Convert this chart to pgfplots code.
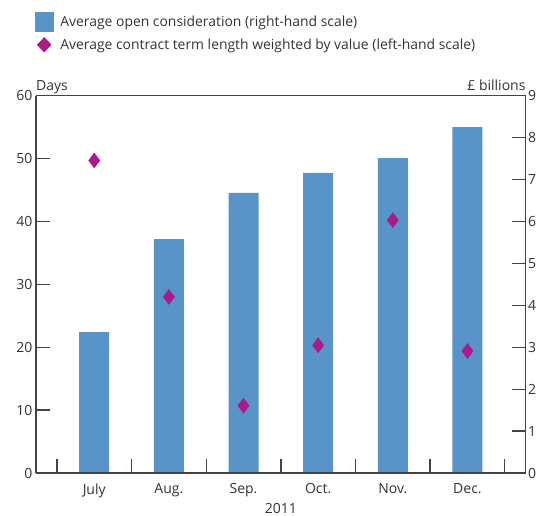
\documentclass[border=0pt]{standalone}
\usepackage{pgfplots}
\pgfplotsset{compat=1.18}
\usepackage{fontspec}
\setmainfont{Open Sans}
\definecolor{barblue}{HTML}{5894C7}
\definecolor{diamag}{HTML}{AC1A8A}
\definecolor{txt}{HTML}{333333}
\definecolor{axl}{HTML}{444444}
\begin{document}
\begin{tikzpicture}[font=\fontsize{14pt}{16.5pt}\selectfont, text=txt]
\pgfplotsset{
  common/.style={
    scale only axis, width=489.7pt, height=377.3pt,
    at={(0pt,0pt)}, anchor=south west,
    xmin=-0.78, xmax=5.78,
    /pgf/number format/assume math mode=true,
    tick align=inside, major tick length=14pt, minor tick length=14pt,
    every tick/.style={axl, line width=1.3pt},
    axis line style={axl, line width=1.3pt, -},
    tick label style={text=txt, font=\fontsize{14pt}{16.5pt}\selectfont},
    separate axis lines,
  }
}
% bars, right-hand scale
\begin{axis}[common,
  ymin=0, ymax=9, ytick={0,1,...,9},
  axis x line*=top, xtick=\empty,
  axis y line*=right,
  yticklabel style={xshift=-1pt},
]
\addplot[ybar, bar width=30pt, fill=barblue, draw=none] coordinates {
  (0,3.36) (1,5.58) (2,6.68) (3,7.16) (4,7.51) (5,8.25)
};
\end{axis}
% diamonds, left-hand scale
\begin{axis}[common,
  ymin=0, ymax=60, ytick={0,10,...,60},
  axis x line*=bottom, axis y line*=left,
  xtick={0,1,2,3,4,5},
  xticklabels={July,Aug.,Sep.,Oct.,Nov.,Dec.},
  xticklabel style={yshift=-7pt},
  major x tick style={draw=none},
  minor xtick={-0.5,0.5,1.5,2.5,3.5,4.5,5.5},
  xlabel={2011}, xlabel style={yshift=1.5pt, font=\fontsize{14pt}{16.5pt}\selectfont},
  legend style={at={(-0.002,1.221)}, anchor=north west, draw=none, fill=none,
    inner sep=0pt, outer sep=0pt, row sep=3.5pt,
    font=\fontsize{13.9pt}{16.5pt}\selectfont, text=txt,
    legend cell align=left,
    nodes={inner sep=3.5pt}},
  legend image code/.code={\fill[diamag] (9pt,-7.3pt) -- (16pt,0pt) -- (9pt,7.3pt) -- (2pt,0pt) -- cycle;},
  clip=false,
]
\addlegendimage{legend image code/.code={\fill[barblue] (0pt,-9.5pt) rectangle (18pt,9.5pt);}}
\addlegendentry{\hspace*{3.5pt}Average open consideration (right-hand scale)}
\addplot[only marks, mark=diamond*, mark size=7.5pt, color=diamag,
  mark options={draw=none, fill=diamag}] coordinates {
  (0,49.7) (1,28.0) (2,10.7) (3,20.3) (4,40.2) (5,19.4)
};
\addlegendentry{\hspace*{3.5pt}Average contract term length weighted by value (left-hand scale)}
\node[anchor=base west, inner sep=0pt, yshift=5pt] at (rel axis cs:0,1) {Days};
\node[anchor=base east, inner sep=0pt, yshift=5pt] at (rel axis cs:1,1) {£ billions};
\end{axis}
\pgfresetboundingbox
\path[use as bounding box] (-36pt,-43pt) rectangle (508pt,473pt);
\end{tikzpicture}
\end{document}
